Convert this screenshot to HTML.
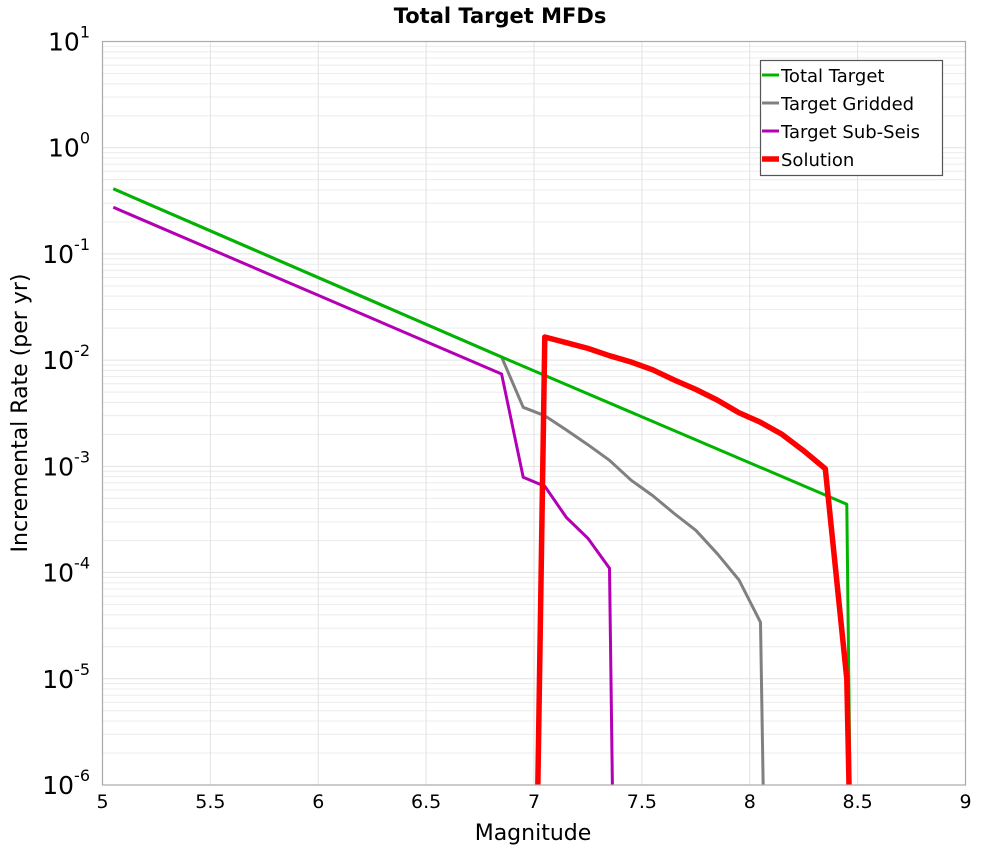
<!DOCTYPE html>
<html><head><meta charset="utf-8"><style>
body{margin:0;background:#fff}
svg{display:block;font-family:"DejaVu Sans","Liberation Sans",sans-serif}
</style></head><body>
<svg id="chart" width="1000" height="850" viewBox="0 0 1000 850">
<defs><clipPath id="pc"><rect x="102.5" y="41.5" width="863" height="743.5"/></clipPath></defs>
<text x="500" y="23" text-anchor="middle" font-size="21" font-weight="bold">Total Target MFDs</text>
<g id="grid"></g>
<g id="series" clip-path="url(#pc)"></g>
<rect x="102.5" y="41.5" width="863" height="743.5" fill="none" stroke="#aaa" stroke-width="1.2"/>
<g id="ticks"></g>
<text x="533" y="840" text-anchor="middle" font-size="22">Magnitude</text>
<text transform="translate(27,413) rotate(-90)" text-anchor="middle" font-size="22">Incremental Rate (per yr)</text>
<g id="legend">
<rect x="760.5" y="60.5" width="182" height="115" fill="#fff" stroke="#555" stroke-width="1.2"/>
</g>
</svg>
<script>
const xTicks=[5,5.5,6,6.5,7,7.5,8,8.5,9];
const yExps=[1,0,-1,-2,-3,-4,-5,-6];
const names=["Total Target","Target Gridded","Target Sub-Seis","Solution"];
const colors=["#00b400","#808080","#b400b4","#ff0000"];
const widths=[3,3,3,5.5];
const totalX=[5.05,6.85,8.45,8.47];
const totalY=[0.41,0.0107,4.4e-4,1e-7];
const griddedX=[5.05,6.85,6.95,7.05,7.15,7.25,7.35,7.45,7.55,7.65,7.75,7.85,7.95,8.05,8.07];
const griddedY=[0.41,0.0107,0.0036,0.0030,0.0022,0.0016,0.00114,7.4e-4,5.3e-4,3.6e-4,2.5e-4,1.5e-4,8.5e-5,3.4e-5,1e-7];
const subX=[5.05,6.85,6.95,7.05,7.15,7.25,7.35,7.37];
const subY=[0.275,0.0074,7.9e-4,6.5e-4,3.3e-4,2.1e-4,1.1e-4,1e-7];
const solX=[7.01,7.05,7.15,7.25,7.35,7.45,7.55,7.65,7.75,7.85,7.95,8.05,8.15,8.25,8.35,8.45,8.47];
const solY=[1e-7,0.0165,0.0146,0.0129,0.011,0.0096,0.0081,0.0065,0.0053,0.0042,0.0032,0.0026,0.0020,0.0014,9.5e-4,1.0e-5,1e-7];
const NS="http://www.w3.org/2000/svg";
const X0=102.5,X1=965.5,Y0=41.5,DEC=106.21;
const sx=v=>X0+(v-5)/4*(X1-X0);
const sy=v=>Y0+(1-Math.log10(v))*DEC;
function mk(t,a,p){const e=document.createElementNS(NS,t);for(const k in a)e.setAttribute(k,a[k]);p.appendChild(e);return e;}
const grid=document.getElementById('grid'),ticks=document.getElementById('ticks');
for(let d=-6;d<1;d++)for(let m=1;m<10;m++){const y=sy(m*Math.pow(10,d));
 const l=mk('line',{x1:X0,x2:X1,y1:y,y2:y,stroke:m==1?'#e2e2e2':'#ececec','stroke-width':1},grid);
 
 }
xTicks.forEach(t=>{const x=sx(t);
 const l=mk('line',{x1:x,x2:x,y1:Y0,y2:785,stroke:'#e2e2e2','stroke-width':1},grid);
 
 
 const tx=mk('text',{x:x,y:808,'text-anchor':'middle','font-size':19},ticks);tx.textContent=String(t);
 
 });
yExps.forEach(e=>{const y=sy(Math.pow(10,e));
 const tx=mk('text',{x:90,y:y+9,'text-anchor':'end','font-size':25},ticks);
 tx.innerHTML='10<tspan dy="-13" font-size="16">'+e+'</tspan>';
 
 });
const ser=document.getElementById('series');
const sets=[[totalX,totalY],[griddedX,griddedY],[subX,subY],[solX,solY]];
const order=[2,1,0,3];
order.forEach(i=>{const [xs,ys]=sets[i];
 const pts=xs.map((x,j)=>sx(x).toFixed(1)+','+sy(ys[j]).toFixed(1)).join(' ');
 const p=mk('polyline',{points:pts,fill:'none',stroke:colors[i],'stroke-width':widths[i],'stroke-linejoin':'round'},ser);
 
 });
const lg=document.getElementById('legend');
names.forEach((n,i)=>{const y=75+i*28;
 const l=mk('line',{x1:762,x2:779,y1:y,y2:y,stroke:colors[i],'stroke-width':widths[i]},lg);
 
 
 const t=mk('text',{x:781,y:y+7,'font-size':18},lg);t.textContent=n;
 
 });
</script>
</body></html>
